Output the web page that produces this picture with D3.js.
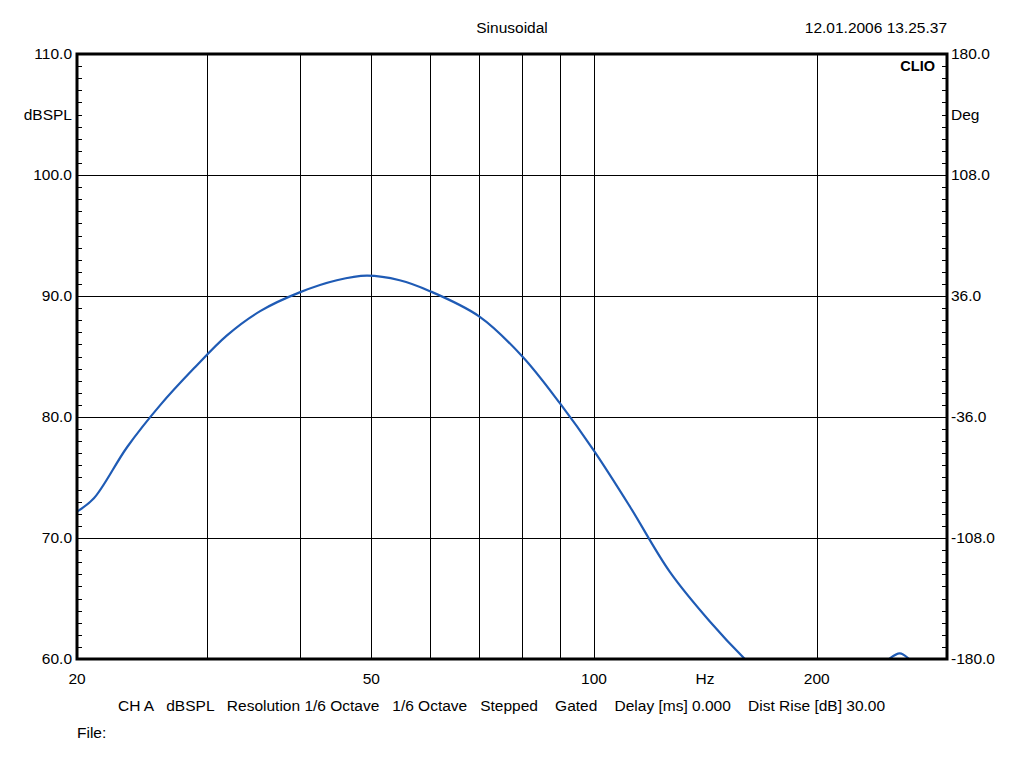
<!DOCTYPE html>
<html><head><meta charset="utf-8">
<script src="https://cdn.jsdelivr.net/npm/d3@7"></script>
<style>body{margin:0;background:#fff}text{font-family:Arial,"Liberation Sans",sans-serif;fill:#000}</style>
</head><body><svg id="c" width="1024" height="768"></svg>
<script>
const freqs = [20, 21.08, 23.37, 25.93, 28.76, 31.9, 35.37, 40, 44.9, 49.3, 54.6, 60, 70, 80, 90, 100, 111.8, 126.6, 143.4, 159.9, 175, 200, 230, 250.6, 259, 266.6, 285, 300];
const spl   = [72.18, 73.28, 77.5, 81.0, 84.0, 86.75, 88.75, 90.3, 91.3, 91.68, 91.3, 90.4, 88.3, 85.0, 81.1, 77.2, 72.6, 67.2, 63.1, 60.0, 57.8, 55.8, 57.6, 60.0, 60.47, 60.0, 58.0, 56.5];
const xGrid = [30, 40, 50, 60, 70, 80, 90, 100, 200];
const xLabels = [20, 50, 100, 200];
const yLeftTicks = [60, 70, 80, 90, 100, 110];
const yRightLabels = ["-180.0", "-108.0", "-36.0", "36.0", "108.0", "180.0"];
const title = "Sinusoidal";
const dateText = "12.01.2006 13.25.37";
const infoText = "CH A   dBSPL   Resolution 1/6 Octave   1/6 Octave   Stepped    Gated    Delay [ms] 0.000    Dist Rise [dB] 30.00";

const svg = d3.select("#c");
const L = 77, R = 947, T = 54, B = 659;
const x = d3.scaleLog().domain([20, 300]).range([L, R]);
const y = d3.scaleLinear().domain([60, 110]).range([B, T]);

svg.append("defs").append("clipPath").attr("id","clip").append("rect")
  .attr("x", L).attr("y", T).attr("width", R - L).attr("height", B - T);

// grid
svg.append("g").selectAll("line").data(xGrid).join("line")
  .attr("x1", d => Math.round(x(d)) + 0.5).attr("x2", d => Math.round(x(d)) + 0.5)
  .attr("y1", T).attr("y2", B).attr("stroke", "#000").attr("stroke-width", 1);
svg.append("g").selectAll("line").data(yLeftTicks.slice(1, -1)).join("line")
  .attr("x1", L).attr("x2", R)
  .attr("y1", d => Math.round(y(d)) + 0.5).attr("y2", d => Math.round(y(d)) + 0.5)
  .attr("stroke", "#000").attr("stroke-width", 1);

// minor ticks
const minor = d3.range(61, 110, 1).filter(v => v % 10 !== 0);
svg.append("g").selectAll("line").data(minor).join("line")
  .attr("x1", L).attr("x2", L + 5)
  .attr("y1", d => Math.round(y(d)) + 0.5).attr("y2", d => Math.round(y(d)) + 0.5)
  .attr("stroke", "#000");
svg.append("g").selectAll("line").data(minor).join("line")
  .attr("x1", R - 5).attr("x2", R)
  .attr("y1", d => Math.round(y(d)) + 0.5).attr("y2", d => Math.round(y(d)) + 0.5)
  .attr("stroke", "#000");

// curve
const pts = freqs.map((f, i) => [f, spl[i]]);
svg.append("path").datum(pts)
  .attr("clip-path", "url(#clip)")
  .attr("d", d3.line().x(d => x(d[0])).y(d => y(d[1])).curve(d3.curveCatmullRom.alpha(0.5)))
  .attr("fill", "none").attr("stroke", "#1f5bb5").attr("stroke-width", 2.2);

// frame
svg.append("rect").attr("x", L).attr("y", T).attr("width", R - L).attr("height", B - T)
  .attr("fill", "none").attr("stroke", "#000").attr("stroke-width", 3);

// left labels
const fs = 15.5;
svg.append("g").selectAll("text").data(yLeftTicks).join("text")
  .attr("x", 72).attr("y", d => y(d) + 5).attr("text-anchor", "end")
  .attr("font-size", fs).text(d => d.toFixed(1));
svg.append("text").attr("x", 72).attr("y", 120).attr("text-anchor", "end").attr("font-size", fs).text("dBSPL");
// right labels
svg.append("g").selectAll("text").data(yRightLabels).join("text")
  .attr("x", 951).attr("y", (d, i) => y(yLeftTicks[i]) + 5)
  .attr("font-size", fs).text(d => d);
svg.append("text").attr("x", 951).attr("y", 120).attr("font-size", fs).text("Deg");
svg.append("text").attr("x", 935).attr("y", 71).attr("text-anchor", "end")
  .attr("font-size", 14.5).attr("font-weight", "bold").text("CLIO");

// x labels
svg.append("g").selectAll("text").data(xLabels).join("text")
  .attr("x", d => x(d)).attr("y", 684).attr("text-anchor", "middle")
  .attr("font-size", fs).text(d => d);
svg.append("text").attr("x", 705).attr("y", 684).attr("text-anchor", "middle").attr("font-size", fs).text("Hz");

// top texts
svg.append("text").attr("x", 512).attr("y", 33).attr("text-anchor", "middle").attr("font-size", fs).text(title);
svg.append("text").attr("x", 947).attr("y", 33).attr("text-anchor", "end").attr("font-size", fs).text(dateText);

// bottom info
svg.append("text").attr("x", 118).attr("y", 711).attr("font-size", fs).attr("xml:space", "preserve").style("white-space", "pre").text(infoText);
svg.append("text").attr("x", 77).attr("y", 738).attr("font-size", fs).text("File:");
</script></body></html>
